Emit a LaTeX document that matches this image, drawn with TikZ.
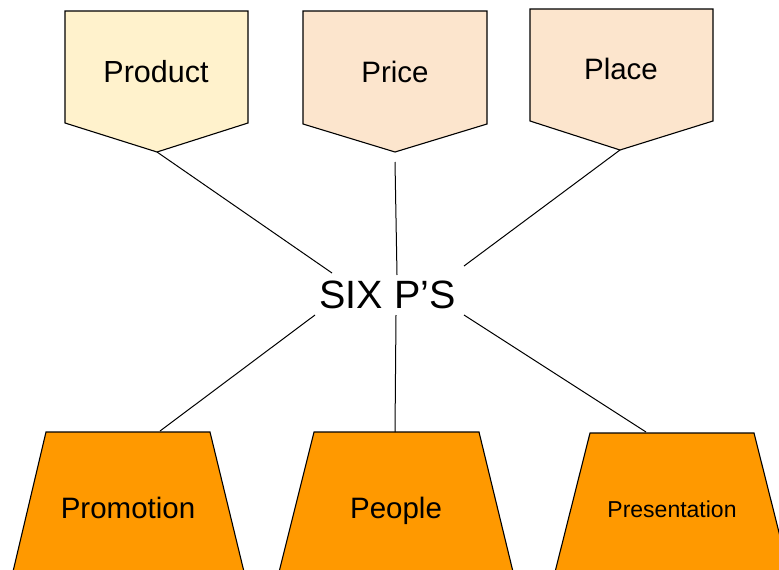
\documentclass[tikz,border=0pt]{standalone}
\usepackage{fontspec}
\setmainfont{Liberation Sans}
\definecolor{prodfill}{HTML}{FFF2CC}
\definecolor{peachfill}{HTML}{FCE5CD}
\definecolor{orangefill}{HTML}{FF9900}
\begin{document}
\begin{tikzpicture}[x=1pt,y=-1pt,
  shapeline/.style={draw=black,line width=1.1pt,line join=miter},
  lbl/.style={font=\fontsize{29.5}{34}\selectfont,inner sep=0pt,anchor=base},
  conn/.style={draw=black,line width=1pt}]
\useasboundingbox (0,0) rectangle (779,570);
\clip (0,0) rectangle (779,570);
% top pentagons
\filldraw[shapeline,fill=prodfill] (65,11) -- (248,11) -- (248,123) -- (157,152) -- (65,123) -- cycle;
\filldraw[shapeline,fill=peachfill] (303,11) -- (487,11) -- (487,124) -- (395,152) -- (303,124) -- cycle;
\filldraw[shapeline,fill=peachfill] (530,9) -- (713,9) -- (713,121) -- (620,150) -- (530,121) -- cycle;
% bottom trapezoids
\filldraw[shapeline,fill=orangefill] (46,432) -- (210,432) -- (246,580) -- (11,580) -- cycle;
\filldraw[shapeline,fill=orangefill] (314,432) -- (479,432) -- (515,580) -- (277,580) -- cycle;
\filldraw[shapeline,fill=orangefill] (590,433) -- (754,433) -- (791,580) -- (553,580) -- cycle;
% labels
\node[lbl,font=\fontsize{30.5}{35}\selectfont] (product) at (156,82) {Product};
\node[lbl] (price) at (395,82) {Price};
\node[lbl] (place) at (621,79) {Place};
\node[lbl] (promotion) at (128,518) {Promotion};
\node[lbl] (people) at (396,518) {People};
\node[lbl,font=\fontsize{23}{27}\selectfont] (presentation) at (672,517) {Presentation};
\node[lbl,font=\fontsize{39.5}{44}\selectfont] (six) at (387.5,308) {SIX P’S};
% connector end points
\coordinate (prodtip) at (157,152);
\coordinate (pricetip) at (395,162);
\coordinate (placetip) at (620,150);
\coordinate (promotop) at (160,431);
\coordinate (peopletop) at (395,432);
\coordinate (prestop) at (646,432);
\coordinate (sixnw) at (332,273);
\coordinate (sixn) at (397,275);
\coordinate (sixne) at (464,266);
\coordinate (sixsw) at (315,315);
\coordinate (sixs) at (396,315);
\coordinate (sixse) at (464,315);
% connectors
\draw[conn] (prodtip) -- (sixnw);
\draw[conn] (pricetip) -- (sixn);
\draw[conn] (placetip) -- (sixne);
\draw[conn] (sixsw) -- (promotop);
\draw[conn] (sixs) -- (peopletop);
\draw[conn] (sixse) -- (prestop);
\end{tikzpicture}
\end{document}
